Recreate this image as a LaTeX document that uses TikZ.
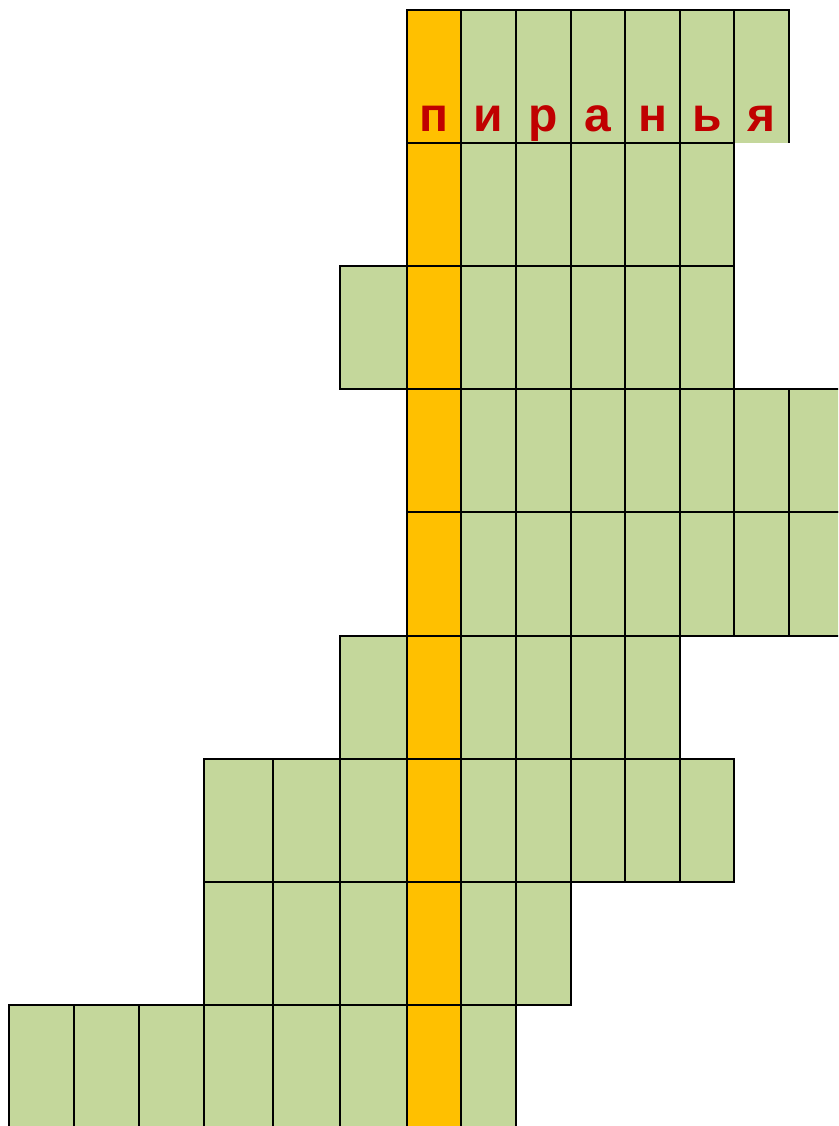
\documentclass[tikz,border=0pt]{standalone}
\usepackage{fontspec}
\setmainfont{Liberation Sans}
\definecolor{cellgreen}{HTML}{C4D79B}
\definecolor{keyorange}{HTML}{FFC000}
\definecolor{letterred}{HTML}{C00000}
\tikzset{
  gridline/.style={draw=black, line width=2.6pt},
  letter/.style={anchor=base, text=letterred, font=\bfseries\fontsize{48}{48}\selectfont, inner sep=0pt}
}
\newcommand{\crow}[3]{%
  \foreach \a/\b in {#3} {%
    \ifnum\a=407
      \filldraw[gridline, fill=keyorange] (\a,#1) rectangle (\b,#2);
    \else
      \filldraw[gridline, fill=cellgreen] (\a,#1) rectangle (\b,#2);
    \fi
  }%
}
\begin{document}
\begin{tikzpicture}[x=1pt,y=-1pt]
\useasboundingbox (0,0) rectangle (838,1126);
\fill[white] (0,0) rectangle (838,1126);
\clip (0,0) rectangle (838,1126);
% row 1
\fill[cellgreen] (734,10) rectangle (789,143);
\draw[gridline] (734,10) -- (789,10) -- (789,143);
\crow{10}{143}{407/461,461/516,516/571,571/625,625/680,680/734}
% row 2
\crow{143}{266}{407/461,461/516,516/571,571/625,625/680,680/734}
% row 3
\crow{266}{389}{340/407,407/461,461/516,516/571,571/625,625/680,680/734}
% row 4
\crow{389}{512}{407/461,461/516,516/571,571/625,625/680,680/734,734/789,789/846}
% row 5
\crow{512}{636}{407/461,461/516,516/571,571/625,625/680,680/734,734/789,789/846}
% row 6
\crow{636}{759}{340/407,407/461,461/516,516/571,571/625,625/680}
% row 7
\crow{759}{882}{204/273,273/340,340/407,407/461,461/516,516/571,571/625,625/680,680/734}
% row 8
\crow{882}{1005}{204/273,273/340,340/407,407/461,461/516,516/571}
% row 9
\crow{1005}{1140}{9/74,74/139,139/204,204/273,273/340,340/407,407/461,461/516}
% letters
\node[letter] (l1) at (434,132) {п};
\node[letter] (l2) at (488.5,132) {и};
\node[letter] (l3) at (543.5,132) {р};
\node[letter] (l4) at (598,132) {а};
\node[letter] (l5) at (652.5,132) {н};
\node[letter] (l6) at (707,132) {ь};
\node[letter] (l7) at (761.5,132) {я};
\end{tikzpicture}
\end{document}
